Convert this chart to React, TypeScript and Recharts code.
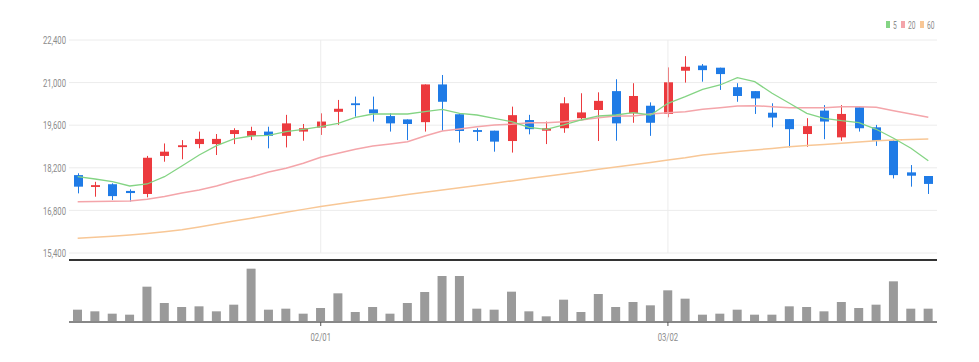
import React from "react";
import { ComposedChart, BarChart, Bar, Line, XAxis, YAxis, CartesianGrid, ReferenceLine } from "recharts";

const dates = [
  "01/10", "01/11", "01/12", "01/13", "01/16", "01/17", "01/18", "01/19", "01/20", "01/25",
  "01/26", "01/27", "01/30", "01/31", "02/01", "02/02", "02/03", "02/06", "02/07", "02/08",
  "02/09", "02/10", "02/13", "02/14", "02/15", "02/16", "02/17", "02/20", "02/21", "02/22",
  "02/23", "02/24", "02/27", "02/28", "03/02", "03/03", "03/06", "03/07", "03/08", "03/09",
  "03/10", "03/13", "03/14", "03/15", "03/16", "03/17", "03/20", "03/21", "03/22", "03/23",
];

const opens = [
  17960, 17570, 17660, 17440, 17340, 18590, 18880, 18980, 18980, 19310,
  19250, 19390, 19250, 19390, 19520, 20040, 20320, 20120, 19900, 19790,
  19700, 20940, 19960, 19440, 19420, 19080, 19770, 19420, 19500, 19830,
  20100, 20720, 19990, 20240, 19970, 21390, 21560, 21490, 20850, 20720,
  20010, 19800, 19310, 20080, 19200, 20190, 19530, 19090, 18050, 17930,
];
const highs = [
  18020, 17740, 17690, 17490, 18590, 19000, 19110, 19390, 19310, 19500,
  19550, 19550, 19940, 19640, 19990, 20430, 20540, 20540, 19990, 19790,
  20940, 21250, 19960, 19500, 19420, 20210, 19940, 19720, 20520, 20650,
  20680, 21110, 20980, 20350, 21500, 21870, 21610, 21490, 20980, 20720,
  20320, 19800, 19830, 20260, 20260, 20190, 19610, 19110, 18290, 17930,
];
const lows = [
  17360, 17250, 17140, 17090, 17230, 18400, 18480, 18840, 18620, 18980,
  19110, 18840, 18870, 19090, 19280, 19610, 19880, 19720, 19390, 19110,
  19390, 19420, 19030, 19080, 18730, 18700, 19300, 18980, 19350, 19770,
  19080, 19090, 19680, 19250, 19860, 21000, 21030, 20760, 20370, 19970,
  19530, 18870, 18890, 19140, 19090, 19390, 18920, 17850, 17580, 17340,
];
const closes = [
  17580, 17630, 17270, 17370, 18530, 18730, 18940, 19150, 19150, 19440,
  19410, 19250, 19660, 19500, 19720, 20140, 20260, 19990, 19660, 19640,
  20940, 20370, 19410, 19380, 19060, 19930, 19470, 19500, 20320, 20020,
  20400, 19660, 20560, 19680, 21010, 21520, 21410, 21280, 20560, 20480,
  19850, 19470, 19570, 19720, 19970, 19500, 19090, 17960, 17940, 17670,
];

const ma5 = [
  17908, 17832, 17744, 17602, 17668, 17908, 18260, 18621, 18927, 19147,
  19245, 19268, 19387, 19466, 19551, 19663, 19860, 19968, 19968, 19968,
  20044, 20123, 19991, 19935, 19827, 19715, 19531, 19466, 19607, 19771,
  19903, 19935, 20011, 19935, 20320, 20537, 20780, 20921, 21161, 21030,
  20649, 20320, 19991, 19827, 19748, 19682, 19466, 19170, 18841, 18434,
];
const ma20 = [
  17087, 17093, 17100, 17110, 17165, 17257, 17372, 17471, 17602, 17767,
  17898, 18062, 18184, 18348, 18546, 18677, 18808, 18917, 18983, 19058,
  19245, 19410, 19475, 19551, 19607, 19630, 19682, 19682, 19715, 19771,
  19847, 19903, 19903, 19968, 20011, 20044, 20123, 20175, 20231, 20241,
  20208, 20175, 20175, 20175, 20208, 20208, 20189, 20077, 19968, 19860,
];
const ma60 = [
  15884, 15917, 15953, 15992, 16042, 16101, 16163, 16255, 16354, 16452,
  16544, 16643, 16738, 16834, 16929, 17014, 17093, 17169, 17244, 17320,
  17395, 17471, 17547, 17622, 17694, 17770, 17846, 17921, 17997, 18072,
  18151, 18227, 18302, 18378, 18457, 18532, 18621, 18680, 18733, 18785,
  18838, 18891, 18930, 18969, 19006, 19048, 19088, 19114, 19130, 19147,
];

const volumes = [
  370, 320, 250, 220, 1060, 570, 450, 470, 320, 520,
  1600, 370, 400, 250, 420, 860, 300, 450, 250, 570,
  900, 1380, 1380, 400, 370, 910, 320, 170, 670, 300,
  840, 450, 600, 500, 950, 700, 220, 250, 370, 220,
  220, 470, 450, 320, 600, 420, 520, 1220, 400, 400,
];

const priceTicks = [15400, 16800, 18200, 19600, 21000, 22400];
const dateTicks = ["02/01", "03/02"];
const maLabels = ["5", "20", "60"];

const UP = "#ec3a3e";
const DOWN = "#1f7be6";
const MA_COLORS = ["#84d484", "#f4a5aa", "#f8c796"];
const TEXT = "#8c8c8c";
const GRID = "#ececec";
const SQUEEZE = 0.67;

const data = dates.map((date, i) => ({
  date,
  range: [lows[i], highs[i]],
  open: opens[i],
  high: highs[i],
  low: lows[i],
  close: closes[i],
  ma5: ma5[i],
  ma20: ma20[i],
  ma60: ma60[i],
  volume: volumes[i],
}));

function Candle(props: any) {
  const { x, y, width, height, payload } = props;
  if (!payload) return null;
  const { open, close, high, low } = payload;
  const color = close >= open ? UP : DOWN;
  const top = Math.min(y, y + height);
  const h = Math.abs(height);
  const ratio = high === low ? 0 : h / (high - low);
  const yOf = (v: number) => top + (high - v) * ratio;
  const cx = Math.round(x + width / 2) + 0.5;
  const bodyTop = yOf(Math.max(open, close));
  const bodyH = Math.max(1.5, Math.abs(open - close) * ratio);
  return (
    <g>
      <line x1={cx} x2={cx} y1={top} y2={top + h} stroke={color} strokeWidth={1} />
      <rect x={cx - 4.5} y={bodyTop} width={9} height={bodyH} fill={color} />
    </g>
  );
}

function PriceTick(props: any) {
  const { x, y, payload } = props;
  return (
    <g transform={`translate(${x},${y})`}>
      <text transform={`scale(${SQUEEZE},1)`} textAnchor="end" dy="0.36em" fontSize={11.5} fill={TEXT}>
        {payload.value.toLocaleString("en-US")}
      </text>
    </g>
  );
}

function DateTick(props: any) {
  const { x, y, payload } = props;
  return (
    <g transform={`translate(${x},${y})`}>
      <text transform={`scale(${SQUEEZE},1)`} textAnchor="middle" dy={13} fontSize={11.5} fill={TEXT}>
        {payload.value}
      </text>
    </g>
  );
}

function Legend() {
  const xs = [886, 901, 920];
  return (
    <svg width={979} height={40} style={{ position: "absolute", left: 0, top: 0 }}>
      {maLabels.map((label, i) => (
        <g key={label}>
          <rect x={xs[i]} y={21} width={4} height={7} fill={MA_COLORS[i]} />
          <g transform={`translate(${xs[i] + 7},25)`}>
            <text transform={`scale(${SQUEEZE},1)`} dy="0.36em" fontSize={10} fill={TEXT}>
              {label}
            </text>
          </g>
        </g>
      ))}
    </svg>
  );
}

export default function App() {
  return (
    <div
      style={{
        position: "absolute",
        left: 0,
        top: 0,
        width: 979,
        height: 362,
        background: "#fff",
        fontFamily: "Roboto, 'Noto Sans', sans-serif",
      }}
    >
      <div style={{ position: "absolute", left: 0, top: 0 }}>
        <ComposedChart width={979} height={262} data={data} margin={{ top: 40, right: 42, bottom: 8, left: 0 }}>
          <CartesianGrid stroke={GRID} strokeWidth={1} vertical={false} />
          <XAxis
            dataKey="date"
            ticks={dateTicks}
            interval={0}
            height={1}
            tick={false}
            axisLine={false}
            tickLine={false}
          />
          <YAxis
            domain={[15400, 22400]}
            ticks={priceTicks}
            interval={0}
            width={69}
            axisLine={false}
            tickLine={false}
            tickSize={3}
            tickMargin={0}
            tick={<PriceTick />}
          />
          {dateTicks.map((d) => (
            <ReferenceLine key={d} x={d} stroke={GRID} strokeWidth={1} />
          ))}
          <Line dataKey="ma60" type="linear" stroke={MA_COLORS[2]} strokeWidth={1.5} dot={false} isAnimationActive={false} />
          <Line dataKey="ma20" type="linear" stroke={MA_COLORS[1]} strokeWidth={1.5} dot={false} isAnimationActive={false} />
          <Line dataKey="ma5" type="linear" stroke={MA_COLORS[0]} strokeWidth={1.3} dot={false} isAnimationActive={false} />
          <Bar dataKey="range" barSize={9} shape={<Candle />} isAnimationActive={false} />
        </ComposedChart>
      </div>
      <div style={{ position: "absolute", left: 0, top: 255 }}>
        <BarChart width={979} height={107} data={data} margin={{ top: 5, right: 42, bottom: 10, left: 69 }}>
          <YAxis hide domain={[0, 1860]} />
          <XAxis
            dataKey="date"
            ticks={dateTicks}
            interval={0}
            height={30}
            tickSize={4}
            tickMargin={2}
            axisLine={{ stroke: "#888", strokeWidth: 2 }}
            tickLine={{ stroke: "#555" }}
            tick={<DateTick />}
          />
          <ReferenceLine y={1860} stroke="#333" strokeWidth={2} />
          <Bar dataKey="volume" barSize={9} fill="#9a9a9a" isAnimationActive={false} />
        </BarChart>
      </div>
      <Legend />
    </div>
  );
}
